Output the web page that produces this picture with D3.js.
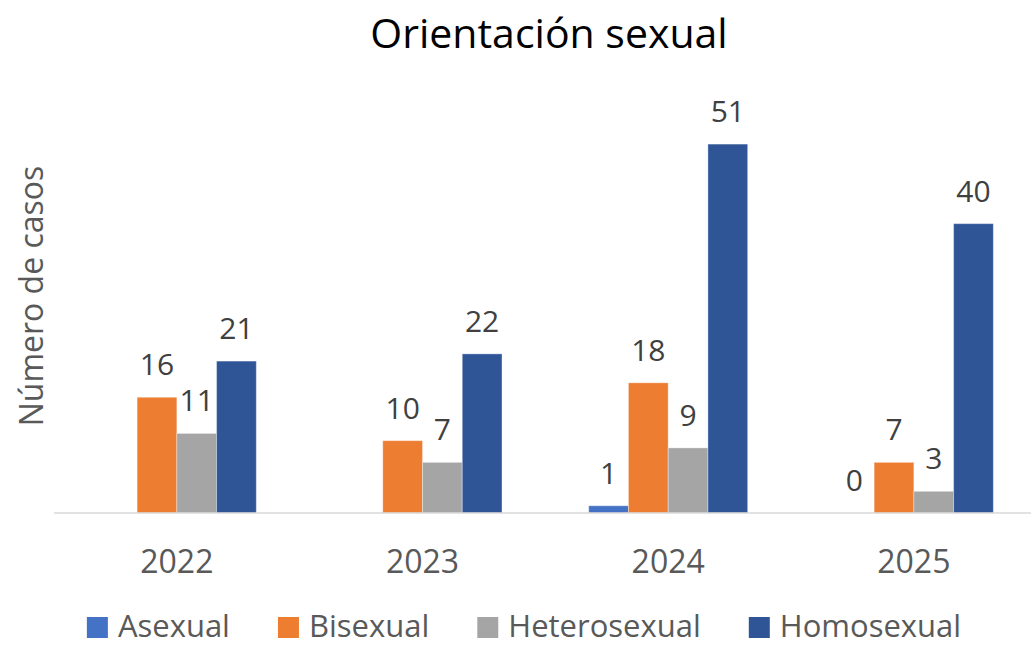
<!DOCTYPE html>
<html>
<head>
<meta charset="utf-8">
<script src="https://cdn.jsdelivr.net/npm/d3@7"></script>
<style>
  html, body { margin: 0; padding: 0; background: #fff; }
  svg { display: block; }
  text { font-family: "Open Sans", sans-serif; }
</style>
</head>
<body>
<svg id="chart" width="1031" height="645"></svg>
<script>
const categories = ["2022", "2023", "2024", "2025"];
const seriesNames = ["Asexual", "Bisexual", "Heterosexual", "Homosexual"];
const asexual = [null, null, 1, 0];
const bisexual = [16, 10, 18, 7];
const heterosexual = [11, 7, 9, 3];
const homosexual = [21, 22, 51, 40];
const colors = ["#4472C4", "#ED7D31", "#A5A5A5", "#2F5597"];
const seriesValues = [asexual, bisexual, heterosexual, homosexual];

const W = 1031, H = 645;
const FONT = "'Open Sans', sans-serif";
const svg = d3.select("#chart");

const x0 = d3.scaleBand().domain(categories).range([54, 1036.7]).paddingInner(0.353).paddingOuter(0.1765);
const x1 = d3.scaleBand().domain(seriesNames).range([0, x0.bandwidth()]);
const y = d3.scaleLinear().domain([0, 60]).range([513, 79]);

// Title
svg.append("text").attr("x", 549).attr("y", 48).attr("text-anchor", "middle")
  .attr("font-size", 41).attr("fill", "#000").text("Orientación sexual");

// Y axis title
svg.append("text").attr("transform", "translate(43,296) rotate(-90)")
  .attr("text-anchor", "middle").attr("font-size", 32).attr("fill", "#595959")
  .text("Número de casos");

// Bars
const groups = svg.append("g").selectAll("g").data(categories).join("g")
  .attr("transform", d => `translate(${x0(d)},0)`);

seriesNames.forEach((s, si) => {
  groups.each(function(cat, ci) {
    const v = seriesValues[si][ci];
    if (v === null) return;
    const g = d3.select(this);
    if (v > 0) {
      g.append("rect").attr("x", x1(s)).attr("y", y(v))
        .attr("width", x1.bandwidth()).attr("height", y(0) - y(v))
        .attr("fill", colors[si]).attr("stroke", "#fff").attr("stroke-opacity", 0.35).attr("stroke-width", 1);
    }
    g.append("text").attr("x", x1(s) + x1.bandwidth() / 2).attr("y", y(v) - 22)
      .attr("text-anchor", "middle").attr("font-size", 30).attr("fill", "#404040").text(v);
  });
});

// X axis
const xAxis = svg.append("g").attr("transform", "translate(0,513)")
  .call(d3.axisBottom(x0).tickSize(0).tickPadding(0));
xAxis.select(".domain").attr("d", `M54,0H${W}`).attr("stroke", "#D9D9D9").attr("stroke-width", 1.5);
xAxis.selectAll(".tick text").attr("dy", null).attr("y", 60)
  .attr("font-size", 32).attr("fill", "#595959")
  .style("font-family", FONT);

// Legend
const legend = svg.append("g");
const items = legend.selectAll("g").data(seriesNames).join("g");
items.append("rect").attr("width", 21).attr("height", 21).attr("y", 617)
  .attr("fill", (d, i) => colors[i]);
items.append("text").attr("x", 31).attr("y", 637).attr("font-size", 31)
  .attr("fill", "#595959").text(d => d);
let widths = [];
items.each(function() { widths.push(21 + 10 + d3.select(this).select("text").node().getComputedTextLength()); });
const gap = 48;
const total = d3.sum(widths) + gap * (widths.length - 1);
let cx = 524 - total / 2;
items.each(function(d, i) {
  d3.select(this).attr("transform", `translate(${cx},0)`);
  cx += widths[i] + gap;
});
</script>
</body>
</html>
